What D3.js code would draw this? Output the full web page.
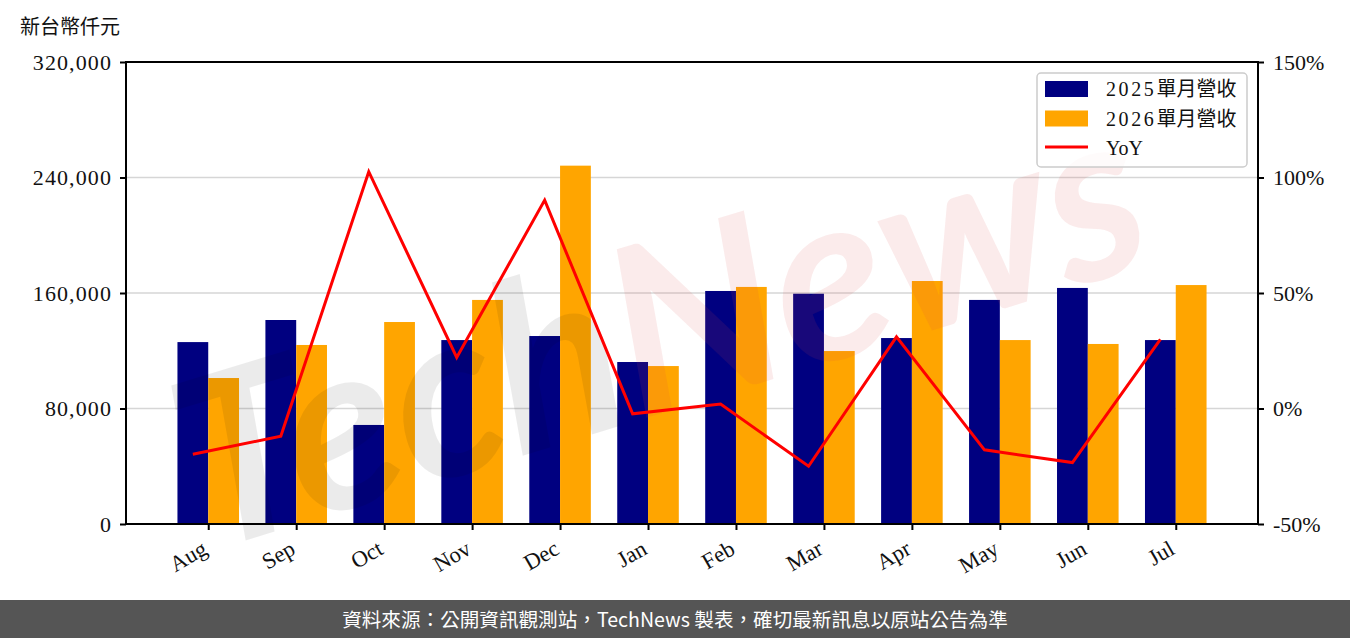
<!DOCTYPE html>
<html>
<head>
<meta charset="utf-8">
<script src="https://cdn.jsdelivr.net/npm/d3@7"></script>
<style>
  html, body { margin: 0; padding: 0; background: #fff; }
  svg { display: block; }
  .serif { font-family: "Liberation Serif", "Noto Sans CJK TC", serif; }
</style>
</head>
<body>
<svg id="chart" width="1350" height="638"></svg>
<script>
// ---- data ----
const months = ["Aug","Sep","Oct","Nov","Dec","Jan","Feb","Mar","Apr","May","Jun","Jul"];
const rev2025 = [126000,141300,68600,127400,130200,112200,161400,159500,128800,155200,163500,127400];
const rev2026 = [101100,124000,139900,155200,248200,109400,164200,119800,168300,127400,124700,165500];
const yoy = [-19.8,-12.0,102.5,22.1,90.2,-2.3,1.9,-25.0,31.0,-17.9,-23.4,29.9];
const leftTicks = [0,80000,160000,240000,320000];
const rightTicks = [-50,0,50,100,150];
const seriesNames = ["2025單月營收","2026單月營收","YoY"];
const unitLabel = "新台幣仟元";
const footerText = "資料來源：公開資訊觀測站，TechNews 製表，確切最新訊息以原站公告為準";

// ---- layout ----
const W = 1350, H = 638;
const L = 126, R = 1258, T = 62, B = 524;
const barW = 0.35;
const svg = d3.select("#chart");

const x = d3.scaleLinear().domain([-0.935, 11.935]).range([L, R]);
const yL = d3.scaleLinear().domain([0, 320000]).range([B, T]);
const yR = d3.scaleLinear().domain([-50, 150]).range([B, T]);
const idx = months.map((d, i) => i);

// gridlines
svg.append("g").selectAll("line").data(leftTicks.filter(d => d > 0 && d < 320000)).join("line")
  .attr("x1", L).attr("x2", R).attr("y1", d => yL(d)).attr("y2", d => yL(d))
  .attr("stroke", "#d6d6d6").attr("stroke-width", 1.6);

// bars
const pxW = x(barW) - x(0);
svg.append("g").selectAll("rect").data(rev2025).join("rect")
  .attr("x", (d, i) => x(i - barW)).attr("width", pxW)
  .attr("y", d => yL(d)).attr("height", d => yL(0) - yL(d))
  .attr("fill", "#000080");
svg.append("g").selectAll("rect").data(rev2026).join("rect")
  .attr("x", (d, i) => x(i)).attr("width", pxW)
  .attr("y", d => yL(d)).attr("height", d => yL(0) - yL(d))
  .attr("fill", "#ffa500");

// watermark
const wm = svg.append("g").attr("transform", "translate(660,330) rotate(-17)")
  .attr("font-family", "Lato, sans-serif").attr("font-style", "italic").attr("font-weight", "bold")
  .attr("font-size", 235).attr("text-anchor", "middle");
const wmText = wm.append("text").attr("x", 0).attr("y", 80);
wmText.append("tspan").text("Tech").attr("fill", "#000").attr("fill-opacity", 0.08);
wmText.append("tspan").text("News").attr("fill", "#d84a4a").attr("fill-opacity", 0.11);

// YoY line
const line = d3.line().x((d, i) => x(i - barW / 2)).y(d => yR(d));
svg.append("path").datum(yoy).attr("d", line)
  .attr("fill", "none").attr("stroke", "#ff0000").attr("stroke-width", 3).attr("stroke-linejoin", "miter");

// axes
function styleAxis(g) {
  g.select(".domain").remove();
  g.selectAll(".tick line").attr("stroke", "#000").attr("stroke-width", 2);
  g.selectAll(".tick text").attr("class", "serif").attr("font-size", 22).attr("fill", "#111");
}
svg.append("g").attr("transform", `translate(${L},0)`)
  .call(d3.axisLeft(yL).tickValues(leftTicks).tickFormat(d3.format(",")).tickSize(6).tickPadding(8))
  .call(styleAxis)
  .selectAll(".tick text").attr("letter-spacing", 1.1);
svg.append("g").attr("transform", `translate(${R},0)`)
  .call(d3.axisRight(yR).tickValues(rightTicks).tickFormat(d => d + "%").tickSize(6).tickPadding(9))
  .call(styleAxis);
const xg = svg.append("g").attr("transform", `translate(0,${B})`)
  .call(d3.axisBottom(x).tickValues(idx).tickFormat(i => months[i]).tickSize(6).tickPadding(6))
  .call(styleAxis);
xg.selectAll(".tick text").attr("text-anchor", "end").attr("dy", null).attr("y", 0)
  .attr("font-size", 22.5)
  .attr("transform", "translate(0,29) rotate(-30)");

// frame (spines)
svg.append("rect").attr("x", L).attr("y", T).attr("width", R - L).attr("height", B - T)
  .attr("fill", "none").attr("stroke", "#000").attr("stroke-width", 2);

// unit label
svg.append("text").attr("class", "serif").attr("x", 20).attr("y", 34)
  .attr("font-size", 20).attr("fill", "#111").text(unitLabel);

// legend
const lg = svg.append("g").attr("transform", "translate(1037,73)");
lg.append("rect").attr("width", 210).attr("height", 94).attr("rx", 4)
  .attr("fill", "#fff").attr("fill-opacity", 0.8).attr("stroke", "#cccccc").attr("stroke-width", 1.5);
const colors = ["#000080", "#ffa500", "#ff0000"];
seriesNames.forEach((name, i) => {
  const cy = 16 + i * 29.5;
  if (i < 2) {
    lg.append("rect").attr("x", 8).attr("y", cy - 8).attr("width", 43).attr("height", 16).attr("fill", colors[i]);
  } else {
    lg.append("line").attr("x1", 8).attr("x2", 51).attr("y1", cy - 1).attr("y2", cy - 1)
      .attr("stroke", colors[i]).attr("stroke-width", 3);
  }
  const t = lg.append("text").attr("class", "serif").attr("x", 69).attr("y", cy + 7)
    .attr("font-size", 20).attr("fill", "#111");
  const m = name.match(/^(\d+)(.*)$/);
  if (m) {
    t.append("tspan").attr("letter-spacing", 2.6).text(m[1]);
    t.append("tspan").text(m[2]);
  } else {
    t.text(name);
  }
});

// footer
svg.append("rect").attr("x", 0).attr("y", 600).attr("width", W).attr("height", 38).attr("fill", "#555555");
svg.append("text").attr("x", W / 2).attr("y", 626.5).attr("text-anchor", "middle")
  .attr("font-family", "'Noto Sans CJK TC', sans-serif").attr("font-size", 19.6).attr("fill", "#fff")
  .text(footerText);
</script>
</body>
</html>
